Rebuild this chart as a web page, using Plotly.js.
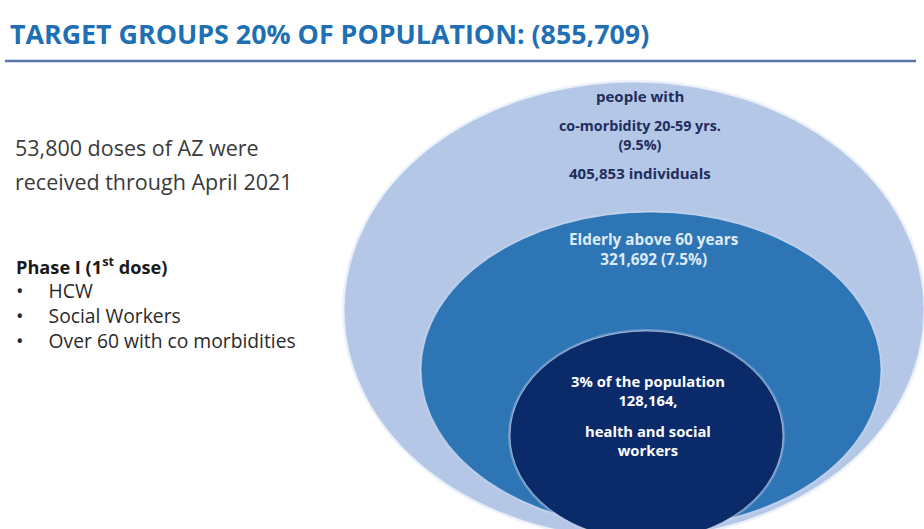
<!DOCTYPE html>
<html>
<head>
<meta charset="utf-8">
<script src="https://cdn.plot.ly/plotly-3.0.1.min.js"></script>
<style>html,body{margin:0;padding:0;background:#fff;}#chart{width:924px;height:529px;}</style>
</head>
<body>
<div id="chart"></div>
<script>
// ---- data ----
var titleText = "TARGET GROUPS 20% OF POPULATION: (855,709)";
var introLines = ["53,800 doses of AZ were", "received through April 2021"];
var phaseTitle = "Phase I (1<sup>st</sup> dose)";
var phaseItems = ["HCW", "Social Workers", "Over 60 with co morbidities"];
var groupNames = ["people with co-morbidity 20-59 yrs.", "Elderly above 60 years", "health and social workers"];
var groupCounts = ["405,853", "321,692", "128,164"];
var groupShares = ["9.5%", "7.5%", "3%"];

// ---- layout helpers ----
var ellipses = [
  {x0: 344, x1: 924, y0: 82, y1: 538, color: "#b4c7e7"},
  {x0: 421, x1: 881, y0: 212, y1: 528, color: "#2e75b6"},
  {x0: 510, x1: 783, y0: 331, y1: 540, color: "#0a2a6a"}
];
var shapes = [
  {type: "line", xref: "x", yref: "y", x0: 5, x1: 916, y0: 61, y1: 61, line: {color: "#5b74a8", width: 2.5}}
];
ellipses.forEach(function (e) {
  shapes.push({type: "circle", xref: "x", yref: "y", x0: e.x0 - 2, x1: e.x1 + 2, y0: e.y0 - 2, y1: e.y1 + 2,
    fillcolor: "rgba(200,215,240,0.35)", line: {width: 0}, layer: "below"});
  shapes.push({type: "circle", xref: "x", yref: "y", x0: e.x0, x1: e.x1, y0: e.y0, y1: e.y1,
    fillcolor: e.color, line: {color: "rgba(255,255,255,0.5)", width: 1}, layer: "below"});
});

var F = "Open Sans, sans-serif";
var ann = [];
function A(x, y, text, size, color, bold, anchor) {
  ann.push({x: x, y: y, xref: "x", yref: "y", text: bold ? "<b>" + text + "</b>" : text,
    showarrow: false, xanchor: anchor || "center", yanchor: "middle", align: anchor || "center",
    font: {family: F, size: size, color: color}});
}
A(8, 33, titleText, 26.8, "#1f6fb4", true, "left");
A(13, 147, introLines[0], 21.5, "#3a3a3a", false, "left");
A(13, 181, introLines[1], 21.5, "#3a3a3a", false, "left");
A(14, 265, phaseTitle, 18.2, "#1a1a1a", true, "left");
var gap = "\u00a0\u00a0\u00a0\u00a0\u00a0";
var bulletText = phaseItems.map(function (t) {
  return "<span style='font-size:20px'>•</span>" + gap + t;
}).join("<br>");
A(14, 315, bulletText, 19.3, "#2a2a2a", false, "left");

var gw = groupNames[0].split(" co-");
A(640, 96, gw[0], 15, "#1f2d5c", true);
A(640, 134.5, "co-" + gw[1] + "<br>(" + groupShares[0] + ")", 14.3, "#1f2d5c", true);
A(640, 173, groupCounts[0] + " individuals", 15, "#1f2d5c", true);

A(654, 249, groupNames[1] + "<br>" + groupCounts[1] + " (" + groupShares[1] + ")", 15.3, "#deebf7", true);

A(648, 390, groupShares[2] + " of the population<br>" + groupCounts[2] + ",", 14.8, "#ffffff", true);
var hw = groupNames[2].split(" workers");
A(648, 440.5, hw[0] + "<br>workers", 14.8, "#ffffff", true);

var layout = {
  width: 924, height: 529,
  margin: {l: 0, r: 0, t: 0, b: 0},
  paper_bgcolor: "#ffffff", plot_bgcolor: "#ffffff",
  xaxis: {range: [0, 924], visible: false, fixedrange: true},
  yaxis: {range: [529, 0], visible: false, fixedrange: true},
  shapes: shapes,
  annotations: ann,
  showlegend: false
};
Plotly.newPlot("chart", [], layout, {displayModeBar: false, staticPlot: true});
</script>
</body>
</html>
